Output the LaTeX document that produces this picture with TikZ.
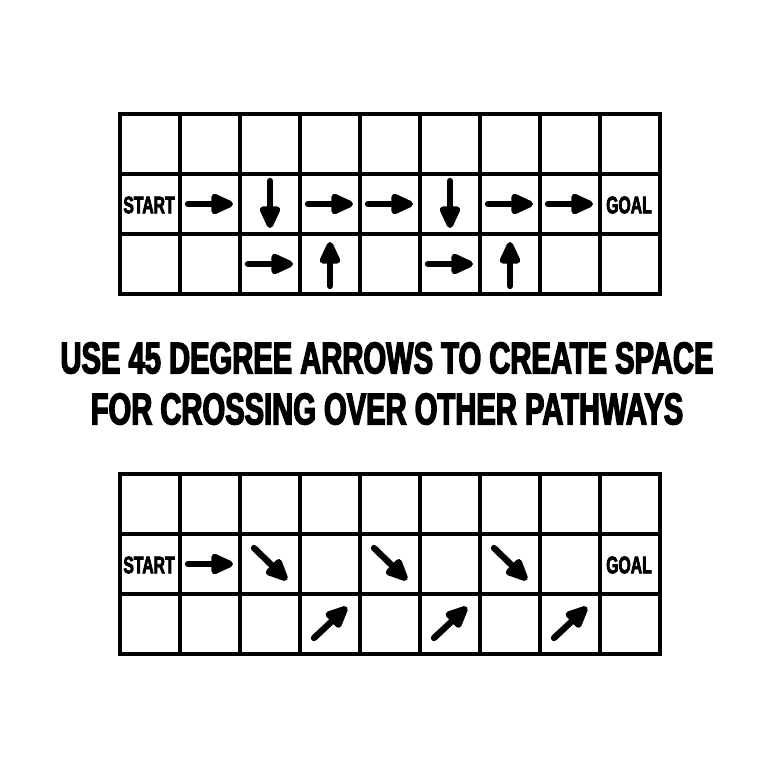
\documentclass[tikz,border=0pt]{standalone}
\usepackage{fontspec}
\usetikzlibrary{arrows.meta}
\newfontfamily\posterfont[FakeStretch=0.655,FakeBold=3]{Liberation Sans Bold}

\begin{document}
\begin{tikzpicture}[x=0.03cm,y=0.03cm]
\tikzset{
  board/.style={black, line width=0.12cm},
  move/.style={black, line width=0.19cm, line cap=round, -{Triangle[length=0.8cm,width=0.66cm,round]}},
  cell label/.style={font=\posterfont\fontsize{20.5}{21}\selectfont, inner sep=0pt},
  title line/.style={font=\posterfont\fontsize{38}{40}\selectfont, inner sep=0pt}
}
\useasboundingbox (0,0) rectangle (775,-775);
\foreach \top in {-114,-474} {
  \draw [board] (120,\top) rectangle (660,\top-180);
  \foreach \x in {180,240,...,600} \draw [board] (\x,\top) -- (\x,\top-180);
  \foreach \y in {60,120} \draw [board] (120,\top-\y) -- (660,\top-\y);
}
\node [cell label] (start1) at (149,-205) {START};
\node [cell label] (goal1) at (629,-205) {GOAL};
\node [cell label] (start2) at (149,-565) {START};
\node [cell label] (goal2) at (629,-565) {GOAL};
\foreach \cx/\cy in {210/-204,330/-204,390/-204,510/-204,570/-204,270/-264,450/-264,210/-564}
  \draw [move] (\cx-22,\cy) -- (\cx+23,\cy);
\foreach \cx in {270,450}
  \draw [move] (\cx,-204+23) -- (\cx,-204-24);
\foreach \cx in {330,510}
  \draw [move] (\cx,-264-22) -- (\cx,-264+22);
\foreach \cx in {270,390,510}
  \draw [move] (\cx-16,-564+16) -- (\cx+17,-564-16);
\foreach \cx in {330,450,570}
  \draw [move] (\cx-16,-624-14) -- (\cx+17,-624+17);
\node [title line] (line1) at (387,-358) {USE 45 DEGREE ARROWS TO CREATE SPACE};
\node [title line] (line2) at (387,-409) {FOR CROSSING OVER OTHER PATHWAYS};
\end{tikzpicture}
\end{document}
